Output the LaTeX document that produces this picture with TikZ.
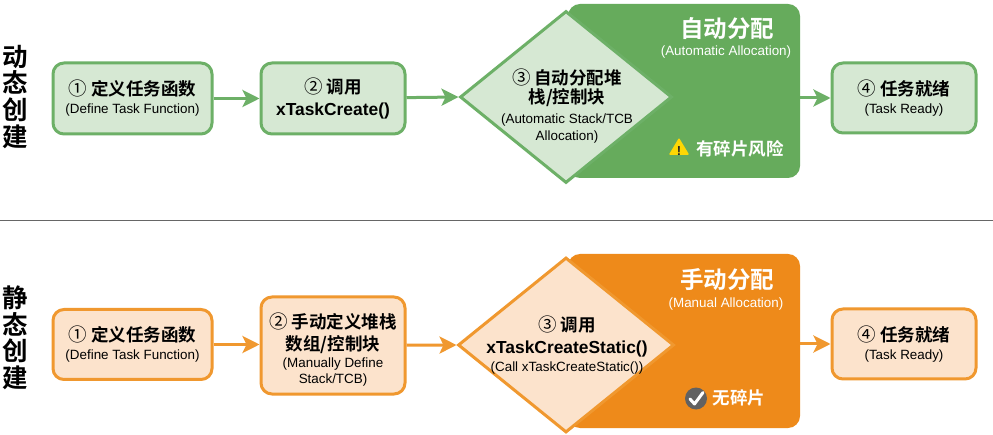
\documentclass[tikz,border=0pt]{standalone}
\usepackage{fontspec}
\setmainfont{Liberation Sans}
\newfontfamily\cjk{Noto Sans CJK SC}[BoldFont={Noto Sans CJK SC Bold}]
\usetikzlibrary{shapes.geometric,arrows.meta}
\definecolor{gline}{HTML}{6DB067}
\definecolor{gfill}{HTML}{D6E8D3}
\definecolor{gpanel}{HTML}{66AB5C}
\definecolor{oline}{HTML}{F0982F}
\definecolor{ofill}{HTML}{FCE3CC}
\definecolor{opanel}{HTML}{EE8A1A}
% every line carries a strut centred on its visual middle, so lines stack predictably
\newcommand{\zh}[1]{{\rule[-3.6pt]{0pt}{20pt}\cjk\bfseries\fontsize{17.5}{20}\selectfont #1}}
\newcommand{\num}[1]{{\cjk\mdseries\fontsize{18.5}{20}\selectfont #1}}
\newcommand{\en}[1]{{\rule[-4pt]{0pt}{17pt}\fontsize{13.4}{16}\selectfont #1}}
\newcommand{\fn}[1]{{\rule[-4pt]{0pt}{20pt}\bfseries\fontsize{17.4}{20}\selectfont #1}}
\newcommand{\stacklines}{\baselineskip=0pt\lineskip=0pt\lineskiplimit=0pt}
\tikzset{
  x=1pt,y=-1pt,
  boxstyle/.style={draw,line width=3pt,rounded corners=11pt,minimum width=#1,align=center,inner sep=0pt,font=\stacklines},
  greenbox/.style={boxstyle=#1,draw=gline,fill=gfill},
  orangebox/.style={boxstyle=#1,draw=oline,fill=ofill},
  dia/.style={diamond,draw,line width=3pt,minimum width=212pt,minimum height=172pt,inner sep=0pt},
  panel/.style={rectangle,rounded corners=12pt,minimum width=232pt,minimum height=174pt,inner sep=0pt},
  lab/.style={align=center,inner sep=0pt,text=black,font=\stacklines},
  wlab/.style={align=center,inner sep=0pt,text=white},
  side/.style={align=center,inner sep=0pt,font=\stacklines\cjk\bfseries\fontsize{25.5}{26.7}\selectfont},
  conn/.style={line width=3pt,-{Stealth[length=17pt,width=17pt,inset=4pt]}},
}
\newcommand{\sq}[1]{\rule[-4pt]{0pt}{26.7pt}#1}
\begin{document}
\begin{tikzpicture}
\useasboundingbox (0,0) rectangle (993,435);
\fill[white] (0,0) rectangle (993,435);

% side labels
\node[side] (s1) at (15,97) {\sq{动}\\\sq{态}\\\sq{创}\\\sq{建}};
\node[side] (s2) at (15,338) {\sq{静}\\\sq{态}\\\sq{创}\\\sq{建}};

\coordinate (sepL) at (0,220.5);
\coordinate (sepR) at (993,220.5);
\draw[gray!80!black,line width=0.8pt] (sepL) -- (sepR);

% top row
\node[panel,fill=gpanel] (p1) at (684,91) {};
\node[dia,draw=gline,fill=gfill] (d1) at (566,97) {};
\node[greenbox=159pt,minimum height=71pt] (a1) at (132.5,98.5) {\zh{\num{①} 定义任务函数}\\[1.5pt]\en{(Define Task Function)}};
\node[greenbox=144pt,minimum height=71pt] (a2) at (333,98.5) {\zh{\num{②} 调用}\\[3pt]\fn{xTaskCreate()}};
\node[greenbox=144pt,minimum height=70pt] (a4) at (904,98) {\zh{\num{④} 任务就绪}\\[1.5pt]\en{(Task Ready)}};
\node[lab] (d1t) at (567,106.3) {\zh{\num{③} 自动分配堆}\\[-1pt]\zh{栈/控制块}\\[2.5pt]\en{(Automatic Stack/TCB}\\\en{Allocation)}};
\node[wlab] (p1t) at (727,29) {\cjk\bfseries\fontsize{23.5}{28}\selectfont 自动分配};
\node[wlab] (p1e) at (726,51) {\en{(Automatic Allocation)}};
\node[wlab] (p1r) at (740,149) {\zh{有碎片风险}};
\node[isosceles triangle,isosceles triangle apex angle=62,shape border rotate=90,fill=yellow!75!orange,rounded corners=1pt,inner sep=0pt,minimum height=17pt,minimum width=20pt] (w1) at (679,149) {};
\node[inner sep=0pt,font=\bfseries\fontsize{13}{13}\selectfont,text=black!85] (w1t) at (679,151) {!};

\draw[conn,draw=gline] (a1) -- (a2);
\draw[conn,draw=gline] (a2) -- (d1.west);
\draw[conn,draw=gline] (p1.east |- a4) -- (a4);

% bottom row
\node[panel,fill=opanel] (p2) at (684,341) {};
\node[dia,draw=oline,fill=ofill,minimum width=216pt,minimum height=175pt] (d2) at (566,345) {};
\node[orangebox=159pt,minimum height=70pt] (b1) at (132.5,344.5) {\zh{\num{①} 定义任务函数}\\[1.5pt]\en{(Define Task Function)}};
\node[orangebox=144pt,minimum height=97pt] (b2) at (333,345.5) {\rule{0pt}{9pt}\\\zh{\num{②} 手动定义堆栈}\\[2pt]\zh{数组/控制块}\\\en{(Manually Define}\\[-1pt]\en{Stack/TCB)}};
\node[orangebox=144pt,minimum height=70pt] (b4) at (904,344) {\zh{\num{④} 任务就绪}\\[1.5pt]\en{(Task Ready)}};
\node[lab] (d2t) at (567,345) {\zh{\num{③} 调用}\\[3pt]\fn{xTaskCreateStatic()}\\[0.5pt]\en{(Call xTaskCreateStatic())}};
\node[wlab] (p2t) at (727,280) {\cjk\bfseries\fontsize{23.5}{28}\selectfont 手动分配};
\node[wlab] (p2e) at (726,303) {\en{(Manual Allocation)}};
\node[wlab] (p2r) at (739,398) {\zh{无碎片}};
\node[circle,fill=black!62,minimum size=22pt,inner sep=0pt] (c2) at (696,398.5) {};
\coordinate (ck1) at (690,399);
\coordinate (ck2) at (694.5,404);
\coordinate (ck3) at (703,392.5);
\draw[white,line width=3pt,line cap=round,line join=round] (ck1) -- (ck2) -- (ck3);

\draw[conn,draw=oline] (b1.east) -- (b1.east -| b2.west);
\draw[conn,draw=oline] (b2) -- (d2.west);
\draw[conn,draw=oline] (p2.east |- b4) -- (b4);
\end{tikzpicture}
\end{document}
